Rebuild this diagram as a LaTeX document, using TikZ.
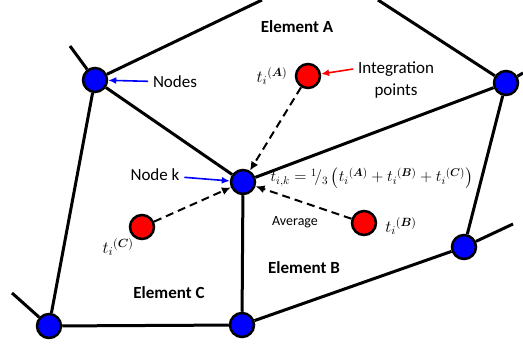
\RequirePackage{fix-cm}
\documentclass[tikz,border=0pt]{standalone}
\usepackage{amsmath}
\usepackage{fontspec}
\setmainfont{Carlito}
\usetikzlibrary{arrows.meta}

\begin{document}
\begin{tikzpicture}[x=1pt, y=-1pt, line width=3pt,
  meshnode/.style={circle, draw=black, fill=blue, line width=2.5pt, minimum size=24pt, inner sep=0pt},
  intpoint/.style={circle, draw=black, fill=red, line width=2.5pt, minimum size=24pt, inner sep=0pt},
  avgarrow/.style={-{Latex[length=9pt,width=8pt]}, line width=2pt, dash pattern=on 8pt off 5pt},
  callout/.style={-{Latex[length=8pt,width=7pt]}, line width=1.6pt},
  lbl/.style={font=\fontsize{17}{22}\selectfont},
  elem/.style={font=\fontsize{17}{20}\selectfont\bfseries}]
  \useasboundingbox (0,0) rectangle (523,350);

  % Knoten des Netzes
  \node[meshnode] (n1) at (95,80) {};
  \node[meshnode] (k)  at (243,182) {};
  \node[meshnode] (ur) at (506,83) {};
  \node[meshnode] (rl) at (464,247) {};
  \node[meshnode] (bl) at (49,326) {};
  \node[meshnode] (bm) at (242,325) {};

  % lose Enden am Rand
  \coordinate (e1) at (70,46);
  \coordinate (e2) at (262,0);
  \coordinate (e3) at (378,0);
  \coordinate (e4) at (523,73);
  \coordinate (e5) at (513,224);
  \coordinate (e6) at (12,293);

  % Elementkanten
  \draw (n1) -- (e1) (n1) -- (e2) (n1) -- (k) (n1) -- (bl)
        (e3) -- (ur) (ur) -- (e4) (k) -- (ur) (ur) -- (rl)
        (bm) -- (rl) (rl) -- (e5) (k) -- (bm) (bl) -- (bm) (bl) -- (e6);

  % Integrationspunkte
  \node[intpoint] (pA) at (308,76) {};
  \node[intpoint] (pB) at (364,223) {};
  \node[intpoint] (pC) at (142,227) {};

  \draw[avgarrow] (pA) -- (k);
  \draw[avgarrow] (pB) -- (k);
  \draw[avgarrow] (pC) -- (k);

  % Beschriftungen
  \node[lbl] (nodeslbl) at (175,82) {Nodes};
  \draw[callout, blue] (nodeslbl) -- (n1);
  \node[lbl, align=center] (intlbl) at (396,80) {Integration\\points};
  \draw[callout, red] ([yshift=11pt]intlbl.west) -- (pA);
  \node[lbl] (klbl) at (155,175) {Node k};
  \draw[callout, blue] (klbl) -- (k);

  \node[elem] (elA) at (297,27) {Element A};
  \node[elem] (elB) at (304,268) {Element B};
  \node[elem] (elC) at (169,293) {Element C};

  \node[lbl] (tA) at (272,76) {${t_i}^{(\boldsymbol{A})}$};
  \node[lbl] (tB) at (401,226) {${t_i}^{(\boldsymbol{B})}$};
  \node[lbl] (tC) at (118,247) {${t_i}^{(\boldsymbol{C})}$};
  \node[font=\fontsize{16}{20}\selectfont, anchor=west, inner sep=0pt] (avgf) at (269,178)
    {$t_{i,k} = {}^{1}\!/_{3}\,\bigl({t_i}^{(\boldsymbol{A})} + {t_i}^{(\boldsymbol{B})} + {t_i}^{(\boldsymbol{C})}\bigr)$};
  \node[font=\fontsize{14}{16}\selectfont] (avglbl) at (295,222) {Average};
\end{tikzpicture}
\end{document}
